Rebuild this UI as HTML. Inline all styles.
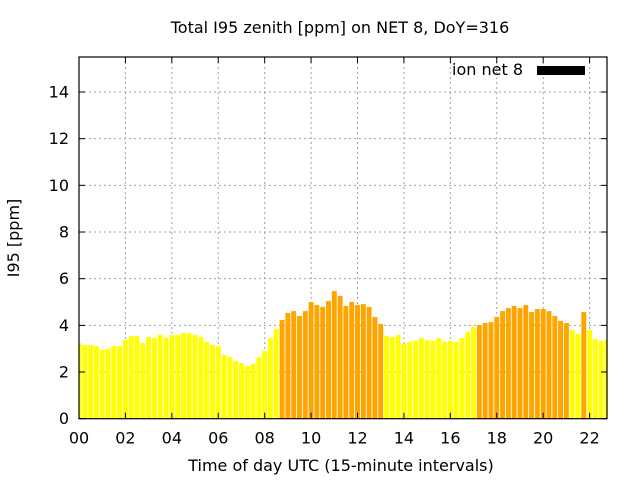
<!DOCTYPE html>
<html><head><meta charset="utf-8"><style>
html,body{margin:0;padding:0;background:#fff;}
svg{display:block;font-family:"DejaVu Sans","Liberation Sans",sans-serif;}
</style></head><body>
<svg id="chart" width="640" height="480" viewBox="0 0 640 480">
<rect width="640" height="480" fill="#fff"/>
<g id="grid"></g>
<g id="bars"></g>
<g id="axes"></g>
<text x="340" y="33" text-anchor="middle" font-size="16">Total I95 zenith [ppm] on NET 8, DoY=316</text>
<text x="341" y="471" text-anchor="middle" font-size="16">Time of day UTC (15-minute intervals)</text>
<text transform="translate(19,238) rotate(-90)" text-anchor="middle" font-size="16">I95 [ppm]</text>
<g>
<text x="523" y="75" text-anchor="end" font-size="16">ion net 8</text>
<rect x="537" y="66" width="48" height="9" fill="#000"/>
</g>
</svg>
<script>
const values = [3.24,3.16,3.16,3.11,2.96,2.99,3.11,3.11,3.37,3.54,3.54,3.24,3.5,3.46,3.59,3.46,3.59,3.59,3.67,3.67,3.59,3.5,3.29,3.16,3.11,2.73,2.64,2.47,2.39,2.26,
2.34,2.64,2.9,3.46,3.84,4.23,4.53,4.61,4.4,4.61,5.0,4.87,4.79,5.04,5.47,5.26,4.83,5.0,4.87,4.91,4.79,4.36,4.06,3.54,3.5,3.59,3.2,3.29,3.33,3.46,
3.37,3.33,3.46,3.29,3.33,3.29,3.46,3.71,3.93,4.01,4.1,4.14,4.36,4.61,4.74,4.83,4.74,4.87,4.57,4.7,4.7,4.61,4.4,4.19,4.1,3.8,3.63,4.57,3.8,3.41,3.33,3.37];
const yTicks = [0,2,4,6,8,10,12,14];
const xTickLabels = ["00","02","04","06","08","10","12","14","16","18","20","22"];
const threshold = 4;
const L=79,R=607,T=57,B=418.7,XMAX=91,YMAX=15.5;
const xs=i=>L+(R-L)*i/XMAX;
const ys=v=>B-(B-T)*v/YMAX;
const NS="http://www.w3.org/2000/svg";
const g=document.getElementById('grid'),bg=document.getElementById('bars'),ag=document.getElementById('axes');
function mk(tag,attrs,parent){const e=document.createElementNS(NS,tag);for(const k in attrs)e.setAttribute(k,attrs[k]);parent.appendChild(e);return e;}
yTicks.forEach(v=>{
  const y=ys(v);
  if(v>0){const gl=mk('line',{x1:L,x2:R,y1:y,y2:y,stroke:'#a0a0a0','stroke-dasharray':'2,3'},g);
  
  }
  mk('line',{x1:L,x2:L+6,y1:y,y2:y,stroke:'#000'},ag);
  mk('line',{x1:R-6,x2:R,y1:y,y2:y,stroke:'#000'},ag);
  const t=mk('text',{x:L-10,y:y+5.5,'text-anchor':'end','font-size':16},ag);
  t.textContent=v;
  
  
});
xTickLabels.forEach((lab,k)=>{
  const x=xs(k*8);
  if(k>0){const gl=mk('line',{x1:x,x2:x,y1:T,y2:B,stroke:'#a0a0a0','stroke-dasharray':'2,3'},g);
  
  }
  mk('line',{x1:x,x2:x,y1:B,y2:B-6,stroke:'#000'},ag);
  mk('line',{x1:x,x2:x,y1:T,y2:T+6,stroke:'#000'},ag);
  const t=mk('text',{x:x,y:B+25,'text-anchor':'middle','font-size':16},ag);
  t.textContent=lab;
  
  
});
const bw=(R-L)/XMAX*0.85;
values.forEach((v,i)=>{
  let x0=xs(i)-bw/2,x1=xs(i)+bw/2;
  x0=Math.max(x0,L);x1=Math.min(x1,R);
  const r=mk('rect',{x:x0,y:ys(v),width:x1-x0,height:B-ys(v),fill:v>=threshold?'#ffa500':'#ffff00'},bg);
  
  
});
const frame=mk('rect',{x:L,y:T,width:R-L,height:B-T,fill:'none',stroke:'#000','stroke-width':1.2},ag);


</script>
</body></html>
